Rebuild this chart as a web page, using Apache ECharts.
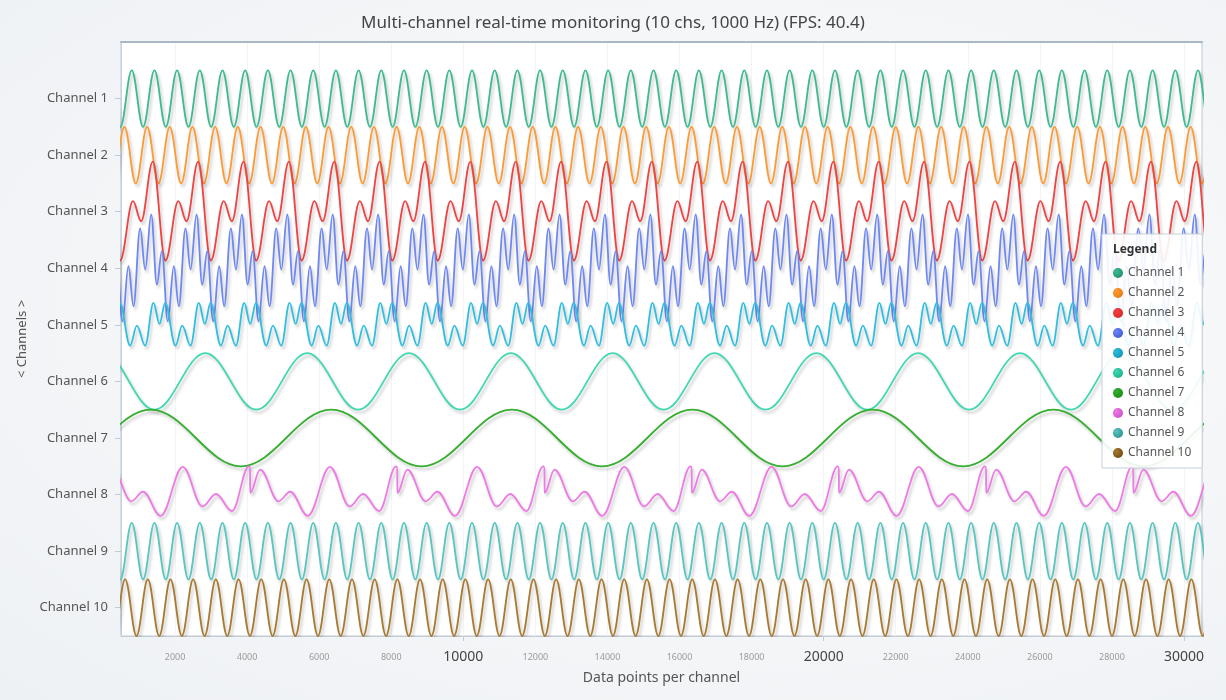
<!DOCTYPE html>
<html>
<head>
<meta charset="utf-8">
<title>Multi-channel real-time monitoring</title>
<script src="https://cdn.jsdelivr.net/npm/echarts@6/dist/echarts.min.js"></script>
<style>
  html, body { margin: 0; padding: 0; }
  body { background: radial-gradient(ellipse at 60% 45%, #fbfcfd 0%, #eef1f4 100%); }
  #main { width: 1226px; height: 700px; }
</style>
</head>
<body>
<div id="main"></div>
<script>
// visible window, in data points per channel
var xMin = 500;
var xMax = 30500;

var channelNames = ['Channel 1', 'Channel 2', 'Channel 3', 'Channel 4', 'Channel 5',
  'Channel 6', 'Channel 7', 'Channel 8', 'Channel 9', 'Channel 10'];
var lineColors = ['#3dbb8e', '#ff9a30', '#f04242', '#6d87f5', '#2cbfe0',
  '#3fd8b0', '#36ae30', '#ee7ae6', '#56c6c0', '#a87a30'];
var legendColors = ['#1e8c6c', '#e27a12', '#d92525', '#4256d4', '#1290b0',
  '#18b088', '#1a8c1a', '#cc4fcc', '#2a9090', '#6e4610'];

// x tick labels (minor every 2000, major every 10000)
var xTicks = [2000, 4000, 6000, 8000, 10000, 12000, 14000, 16000, 18000, 20000,
  22000, 24000, 26000, 28000, 30000];
var xMajorTicks = [10000, 20000, 30000];

// one repeating cycle per channel:
// [offset in points from the cycle start, level relative to the channel line]
var ch1Cycle = [[0, 0.5], [315, -0.5]];
var ch2Cycle = [[0, 0.5], [315, -0.5]];
var ch3Cycle = [[0, 0.884], [353, -0.862], [709, 0.186], [937, -0.168]];
var ch4Cycle = [[0, -0.937], [167, 0.036], [306, -0.672], [492, 0.704],
  [631, -0.022], [798, 0.951], [956, -0.288], [1095, 0.302]];
var ch5Cycle = [[0, -0.367], [231, 0.389], [398, 0.016], [556, 0.389],
  [842, -0.367], [1029, -0.013]];
var ch6Cycle = [[0, -0.5], [1413, 0.5]];
var ch7Cycle = [[0, 0.5], [2505, -0.5]];
var ch8Cycle = [[0, 0.03], [278, 0.44], [787, -0.12], [1112, 0.05], [1601, -0.376],
  [2216, 0.49], [2761, -0.21], [3136, 0.01], [3581, -0.29], [4050, 0.5], [4084, 0.48]];
var ch9Cycle = [[0, 0.5], [315, -0.5]];
var ch10Cycle = [[0, 0.5], [315, -0.5]];

// where the first cycle starts and how long it is (points)
var cycleStart = [798, 595, 1382, 1799, 1170, 1429, 1326, 4084, 798, 615];
var cyclePeriod = [629.6, 629.6, 1259.2, 1259.2, 1259.2, 2826, 5010, 4085, 629.6, 629.6];

var cycles = [ch1Cycle, ch2Cycle, ch3Cycle, ch4Cycle, ch5Cycle,
  ch6Cycle, ch7Cycle, ch8Cycle, ch9Cycle, ch10Cycle];

// channel rows: Channel 1 on top
var rowLevels = channelNames.map(function (n, i) { return channelNames.length - i - 0.5; });

function buildTrace(cycle, start, period, base) {
  var pts = [];
  var k = Math.floor((xMin - start) / period) - 1;
  while (start + k * period <= xMax + period) {
    cycle.forEach(function (p) {
      pts.push([Math.round(start + k * period + p[0]), +(base + p[1]).toFixed(3)]);
    });
    k++;
  }
  return pts;
}

var series = channelNames.map(function (name, i) {
  return {
    name: name,
    type: 'line',
    data: buildTrace(cycles[i], cycleStart[i], cyclePeriod[i], rowLevels[i]),
    symbol: 'none',
    smooth: 0.37,
    smoothMonotone: 'x',
    silent: true,
    clip: true,
    itemStyle: { color: lineColors[i] },
    lineStyle: {
      width: 1.8,
      color: lineColors[i],
      shadowColor: 'rgba(0, 0, 0, 0.22)',
      shadowBlur: 3,
      shadowOffsetX: 2,
      shadowOffsetY: 3
    }
  };
});

var legendData = channelNames.map(function (name, i) {
  return {
    name: name,
    itemStyle: {
      color: {
        type: 'radial', x: 0.35, y: 0.35, r: 0.75,
        colorStops: [{ offset: 0, color: lineColors[i] }, { offset: 1, color: legendColors[i] }]
      }
    }
  };
});

var chart = echarts.init(document.getElementById('main'));

var option = {
  animation: false,
  textStyle: { fontFamily: "'Noto Sans', 'Open Sans', sans-serif" },
  title: {
    text: 'Multi-channel real-time monitoring (10 chs, 1000 Hz) (FPS: 40.4)',
    left: 'center',
    top: 10,
    textStyle: { fontSize: 17, fontWeight: 'normal', color: '#444' }
  },
  grid: {
    left: 121, right: 24, top: 42, bottom: 64,
    show: true,
    backgroundColor: '#ffffff',
    borderColor: '#bcc8d4',
    borderWidth: 1
  },
  legend: {
    orient: 'vertical',
    left: 1102,
    top: 234,
    padding: [33, 11, 9, 11],
    itemGap: 8,
    itemWidth: 10,
    itemHeight: 10,
    icon: 'circle',
    selectedMode: false,
    backgroundColor: 'rgba(255, 255, 255, 0.9)',
    borderColor: '#c3cfdb',
    borderWidth: 1,
    textStyle: { fontSize: 12, color: '#555' },
    data: legendData
  },
  graphic: [{
    type: 'text',
    left: 1113,
    top: 244,
    z: 100,
    style: { text: 'Legend', fontSize: 12, fontWeight: 'bold', fill: '#333',
      fontFamily: "'Noto Sans', sans-serif" }
  }],
  xAxis: [{
    type: 'value',
    min: xMin,
    max: xMax,
    name: 'Data points per channel',
    nameLocation: 'middle',
    nameGap: 35,
    nameTextStyle: { fontSize: 14, color: '#555' },
    axisLine: { show: true, lineStyle: { color: '#c4cdd6' } },
    axisTick: { show: true, customValues: xMajorTicks, length: 5, lineStyle: { color: '#c4cdd6' } },
    axisLabel: {
      customValues: xTicks,
      margin: 12,
      formatter: function (v) {
        return xMajorTicks.indexOf(v) >= 0 ? '{major|' + v + '}' : '{minor|' + v + '}';
      },
      rich: {
        major: { fontSize: 14, color: '#444', lineHeight: 18 },
        minor: { fontSize: 9, color: '#9a9a9a', lineHeight: 18 }
      }
    },
    splitLine: { show: true, lineStyle: { color: '#e4e9ef' } }
  }, {
    type: 'value',
    min: xMin,
    max: xMax,
    position: 'top',
    axisLine: { show: true, lineStyle: { color: '#a9b7c6', width: 2 } },
    axisTick: { show: false, customValues: xTicks },
    axisLabel: { show: false },
    splitLine: { show: true, lineStyle: { color: '#f3f4f6' } }
  }],
  yAxis: {
    type: 'value',
    min: 0,
    max: channelNames.length + 0.5,
    name: '< Channels >',
    nameLocation: 'middle',
    nameGap: 90,
    nameTextStyle: { fontSize: 13, color: '#555' },
    axisLine: { show: true, lineStyle: { color: '#c8d2dc' } },
    axisTick: { show: true, customValues: rowLevels, length: 6, lineStyle: { color: '#c0cad6' } },
    axisLabel: {
      customValues: rowLevels,
      margin: 13,
      fontSize: 13,
      color: '#555',
      formatter: function (v) {
        return channelNames[Math.round(channelNames.length - 0.5 - v)];
      }
    },
    splitLine: { show: false }
  },
  series: series
};

chart.setOption(option);
</script>
</body>
</html>
